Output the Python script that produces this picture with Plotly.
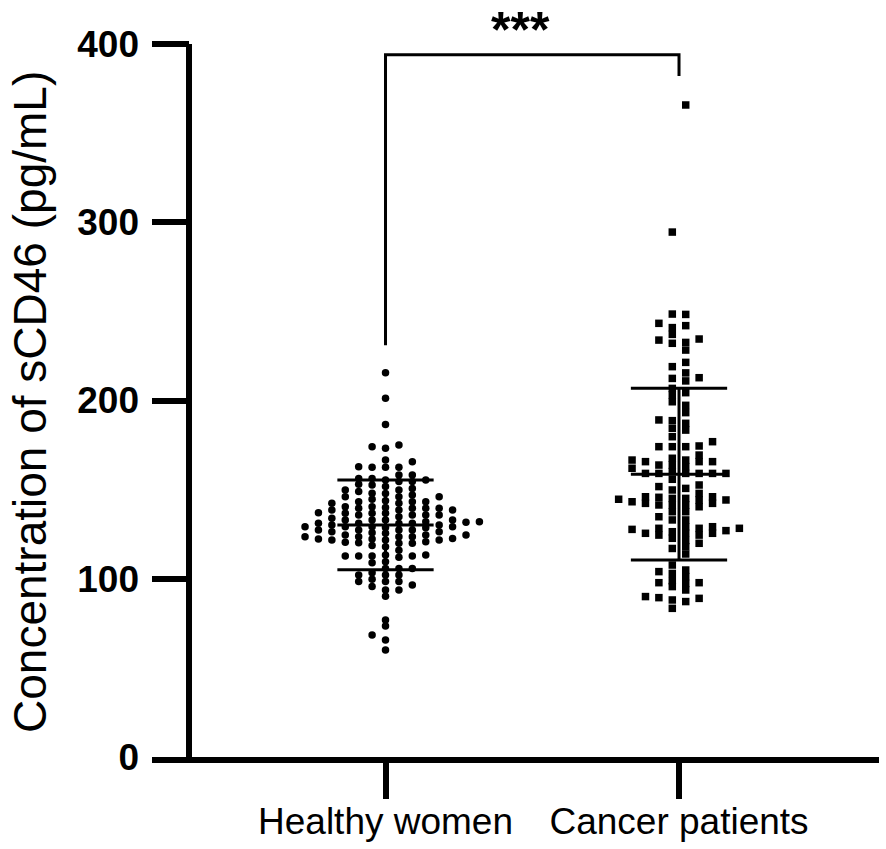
import plotly.graph_objects as go

# values (pg/mL)
groups = ["Healthy women", "Cancer patients"]
healthy = [
    137.1, 133.0, 128.8, 123.6,
    140.4, 135.7, 131.7, 128.6, 124.5, 120.2,
    140.0, 131.0, 123.6,
    156.3, 151.7, 146.0, 142.3, 139.5, 135.8, 131.1, 127.4, 119.9, 113.3,
    162.5, 156.3, 152.6, 149.8, 146.0, 143.2, 139.5, 135.8, 132.0, 129.2,
    124.5, 121.7, 118.6, 112.8, 102.1, 96.5,
    175.0, 165.7, 154.5, 147.9, 143.8, 127.4, 120.5, 112.0, 105.8, 102.1,
    98.4, 93.7,
    215.6, 201.2, 186.6, 174.1, 162.5, 158.2, 153.0, 148.0, 143.2, 140.4,
    136.7, 133.0, 129.2, 126.4, 123.6, 120.8, 118.0, 116.0, 112.8, 109.6,
    105.8, 102.1, 98.4, 93.7, 90.2, 73.5, 65.6, 60.0,
    173.2, 166.6, 162.5, 155.4, 149.8, 146.0, 142.3, 139.5, 136.7, 133.0,
    130.2, 127.4, 124.5, 121.7, 113.3, 105.8, 98.4, 76.9, 68.4,
    162.9, 155.4, 148.9, 138.6, 134.8, 131.1, 127.4, 123.6, 119.9, 112.8,
    109.0, 103.4, 99.7, 95.6,
    158.2, 154.5, 150.7, 147.0, 143.2, 139.5, 136.7, 133.0, 129.2, 125.5,
    121.7, 112.8,
    144.6, 135.8, 132.0, 129.2, 125.8, 122.6,
    138.6, 133.9, 130.2, 122.3,
    138.6, 131.1, 126.4, 122.3,
]
cancer = [
    365.8, 294.5,
    237.1, 232.1, 212.8, 193.2, 174.1,
    248.3, 240.9, 232.6, 221.4, 204.4, 197.3, 188.7, 184.4, 179.7, 174.1,
    248.5, 242.0, 233.9, 228.3, 219.0, 212.4, 206.8, 203.1, 199.3, 187.2,
    183.4, 176.9, 174.1,
    243.3, 234.5, 215.5, 211.0, 189.1, 174.5,
    145.7, 127.7,
    167.6, 163.8, 160.1, 151.7, 146.0, 142.3, 125.5,
    165.7, 159.1, 144.2, 133.0, 128.3,
    166.6, 162.0, 155.8, 147.9, 143.2, 124.5, 119.9,
    166.6, 159.1, 152.6, 144.2, 140.4, 134.8, 129.2, 125.5, 121.5, 117.0,
    162.9, 159.1, 149.8, 141.4, 137.6, 129.2, 125.5, 113.9,
    169.4, 165.7, 159.1, 150.7, 146.0, 142.3, 137.6, 128.3, 124.5, 122.7,
    118.0,
    163.8, 159.1, 145.1, 141.4, 133.0, 128.3,
    165.7, 159.1, 145.1, 141.4, 126.4,
    144.6, 127.0,
    97.4, 90.0,
    104.0, 97.8, 93.7,
    104.9, 98.9, 88.1, 83.4,
    101.2, 87.2,
    107.7, 103.0, 95.6, 89.0,
    97.8, 89.4,
]
group_mean = [130.2, 158.7]
group_sd = [25.2, 48.2]
y_ticks = [0, 100, 200, 300, 400]
sig_label = "***"

FONT = "Liberation Sans, Arial, sans-serif"


def swarm(values, half=False, step=0.0457, gap=3.3):
    """Dot-plot layout: put each value in the nearest column where it
    does not overlap a dot already placed there."""
    cols = {}
    xs = []
    flip = 1
    for v in values:
        k = 0
        while True:
            if half:
                cands = [-(k + 0.5), k + 0.5]
            else:
                cands = [0] if k == 0 else [-k, k]
            free = [c for c in cands
                    if all(abs(v - u) >= gap for u in cols.get(c, []))]
            if free:
                if len(free) == 2:
                    n0 = len(cols.get(free[0], []))
                    n1 = len(cols.get(free[1], []))
                    if n0 == n1:
                        c = free[0] if flip > 0 else free[1]
                        flip = -flip
                    else:
                        c = free[0] if n0 < n1 else free[1]
                else:
                    c = free[0]
                cols.setdefault(c, []).append(v)
                xs.append(c * step)
                break
            k += 1
    return xs


fig = go.Figure()

for i, (vals, sym, half) in enumerate([(healthy, "circle", False),
                                       (cancer, "square", True)]):
    ys = sorted(vals)
    xs = [i + dx for dx in swarm(ys, half=half)]
    fig.add_trace(go.Scatter(
        x=xs, y=ys, mode="markers",
        marker=dict(symbol=sym, size=7.5, color="black", line=dict(width=0)),
        showlegend=False, cliponaxis=False,
    ))

# mean +/- SD
hw = 0.164
for i in range(len(groups)):
    m, s = group_mean[i], group_sd[i]
    for yv in [m - s, m, m + s]:
        fig.add_trace(go.Scatter(
            x=[i - hw, i + hw], y=[yv, yv], mode="lines",
            line=dict(color="black", width=3), showlegend=False))
    fig.add_trace(go.Scatter(
        x=[i, i], y=[m - s, m + s], mode="lines",
        line=dict(color="black", width=3), showlegend=False))

# significance bracket
fig.add_trace(go.Scatter(
    x=[0, 0, 1, 1], y=[231, 394, 394, 382], mode="lines",
    line=dict(color="black", width=3), showlegend=False, cliponaxis=False))
fig.add_annotation(x=0.46, y=1, xref="x", yref="paper", yanchor="top",
                   text=sig_label, showarrow=False,
                   font=dict(size=50, family=FONT, color="black",
                             weight="bold"))

# y axis line stops at 400
fig.add_shape(type="line", xref="paper", yref="y", x0=0.0509, x1=0.0509,
              y0=0, y1=400, line=dict(color="black", width=6))

fig.add_annotation(x=-0.1678, y=0.469, xref="paper", yref="paper",
                   text="Concentration of sCD46 (pg/mL)", textangle=-90,
                   showarrow=False, xanchor="center", yanchor="middle",
                   font=dict(size=46, family=FONT, color="black"))

fig.update_layout(
    width=886, height=849,
    margin=dict(l=152, r=7, t=0, b=92, autoexpand=False),
    plot_bgcolor="white", paper_bgcolor="white",
    font=dict(family=FONT, color="black"),
    xaxis=dict(
        range=[-0.7956, 1.6814], tickvals=[0, 1], ticktext=groups,
        showline=True, linecolor="black", linewidth=6, automargin=False,
        ticks="outside", ticklen=36, tickwidth=6, tickcolor="black",
        tickfont=dict(size=37, family=FONT, color="black"),
        ticklabelstandoff=-9,
        showgrid=False, zeroline=False,
    ),
    yaxis=dict(
        range=[0, 424.7], tickvals=y_ticks, automargin=False,
        showline=False, ticks="inside", ticklen=37, tickwidth=6,
        tickcolor="black", ticklabelstandoff=12,
        tickfont=dict(size=37, family=FONT, color="black", weight="bold"),
        showgrid=False, zeroline=False,
    ),
)

fig.write_html("out.html", config={"displayModeBar": False},
               post_script="document.body.style.margin='0';")
